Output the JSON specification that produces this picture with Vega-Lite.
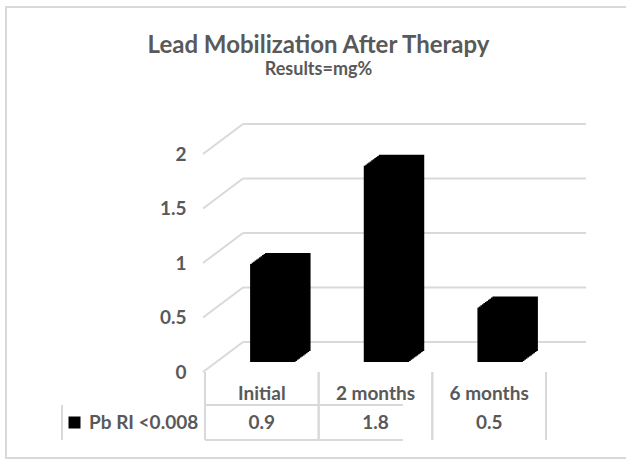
{
  "$schema": "https://vega.github.io/schema/vega-lite/v6.json",
  "width": 341,
  "height": 218,
  "autosize": "none",
  "padding": {"left": 205, "top": 154, "right": 80, "bottom": 88},
  "background": "white",
  "config": {"view": {"stroke": null}},
  "title": {
    "text": "Lead Mobilization After Therapy",
    "subtitle": "Results=mg%",
    "anchor": "middle",
    "dx": -57,
    "offset": -74,
    "font": "Lato",
    "fontSize": 24,
    "fontWeight": "bold",
    "color": "#595959",
    "subtitleFont": "Lato",
    "subtitleFontSize": 18,
    "subtitleFontWeight": "bold",
    "subtitleColor": "#595959",
    "subtitlePadding": 3
  },
  "datasets": {
    "bars": [
      {"cat": "Initial", "val": 0.9, "series": "Pb RI <0.008"},
      {"cat": "2 months", "val": 1.8, "series": "Pb RI <0.008"},
      {"cat": "6 months", "val": 0.5, "series": "Pb RI <0.008"}
    ],
    "ticks": [{"v": 0}, {"v": 0.5}, {"v": 1}, {"v": 1.5}, {"v": 2}]
  },
  "data": {"name": "bars"},
  "layer": [
    {
      "mark": {"type": "rule", "color": "#d9d9d9", "strokeWidth": 2},
      "encoding": {"x": {"value": -199}, "y": {"value": -148}, "y2": {"value": 305}}
    },
    {
      "mark": {"type": "rule", "color": "#d9d9d9", "strokeWidth": 2},
      "encoding": {"x": {"value": -200}, "x2": {"value": 421}, "y": {"value": -147}}
    },
    {
      "mark": {"type": "rule", "color": "#d9d9d9", "strokeWidth": 2},
      "encoding": {"x": {"value": -200}, "x2": {"value": 421}, "y": {"value": 304}}
    },
    {
      "data": {"name": "ticks"},
      "mark": {"type": "rule", "color": "#d9d9d9", "strokeWidth": 2, "xOffset": 38, "x2Offset": 40, "yOffset": -30},
      "encoding": {
        "x": {"value": 0},
        "x2": {"value": {"expr": "width"}},
        "y": {
          "field": "v",
          "type": "quantitative",
          "scale": {"domain": [0, 2], "nice": false, "zero": true},
          "axis": {
            "title": null,
            "values": [0, 0.5, 1, 1.5, 2],
            "format": "~g",
            "domain": false,
            "ticks": false,
            "grid": false,
            "labelPadding": 19,
            "labelFont": "Lato",
            "labelFontSize": 19,
            "labelFontWeight": "bold",
            "labelColor": "#595959"
          }
        }
      }
    },
    {
      "data": {"name": "ticks"},
      "mark": {"type": "rule", "color": "#d9d9d9", "strokeWidth": 2, "xOffset": -2, "x2Offset": 38, "y2Offset": -30},
      "encoding": {
        "x": {"value": 0},
        "x2": {"value": 0},
        "y": {"field": "v", "type": "quantitative"},
        "y2": {"field": "v"}
      }
    },
    {
      "mark": {"type": "rule", "color": "#d9d9d9", "strokeWidth": 2, "y2Offset": 68},
      "encoding": {
        "x": {"field": "cat", "type": "nominal", "bandPosition": 0, "sort": null,
              "scale": {"paddingInner": 0, "paddingOuter": 0},
              "axis": {"title": null, "domain": false, "ticks": false, "labelAngle": 0, "labelPadding": 21, "labelBaseline": "middle",
                       "labelFont": "Lato", "labelFontSize": 19, "labelFontWeight": "bold", "labelColor": "#595959"}},
        "y": {"datum": 0},
        "y2": {"datum": 0}
      }
    },
    {
      "mark": {"type": "rule", "color": "#d9d9d9", "strokeWidth": 2, "y2Offset": 68},
      "encoding": {
        "x": {"field": "cat", "type": "nominal", "bandPosition": 1, "sort": null},
        "y": {"datum": 0},
        "y2": {"datum": 0}
      }
    },
    {
      "mark": {"type": "rule", "color": "#d9d9d9", "strokeWidth": 2, "xOffset": -143, "yOffset": 33},
      "encoding": {"y": {"datum": 0}}
    },
    {
      "mark": {"type": "rule", "color": "#d9d9d9", "strokeWidth": 2, "xOffset": -143, "yOffset": 68},
      "encoding": {"y": {"datum": 0}}
    },
    {
      "mark": {"type": "rule", "color": "#d9d9d9", "strokeWidth": 2, "xOffset": -143, "x2Offset": -143, "yOffset": 33, "y2Offset": 68},
      "encoding": {"x": {"value": 0}, "x2": {"value": 0}, "y": {"datum": 0}, "y2": {"datum": 0}}
    },
    {"mark": {"type": "bar", "color": "#000000", "width": {"band": 0.4}, "xOffset": 26, "yOffset": -21, "y2Offset": -21}, "encoding": {"x": {"field": "cat", "type": "nominal", "sort": null}, "y": {"field": "val", "type": "quantitative"}}},
    {"mark": {"type": "bar", "color": "#000000", "width": {"band": 0.4}, "xOffset": 24.5, "yOffset": -19.9, "y2Offset": -19.9}, "encoding": {"x": {"field": "cat", "type": "nominal", "sort": null}, "y": {"field": "val", "type": "quantitative"}}},
    {"mark": {"type": "bar", "color": "#000000", "width": {"band": 0.4}, "xOffset": 23, "yOffset": -18.8, "y2Offset": -18.8}, "encoding": {"x": {"field": "cat", "type": "nominal", "sort": null}, "y": {"field": "val", "type": "quantitative"}}},
    {"mark": {"type": "bar", "color": "#000000", "width": {"band": 0.4}, "xOffset": 21.5, "yOffset": -17.7, "y2Offset": -17.7}, "encoding": {"x": {"field": "cat", "type": "nominal", "sort": null}, "y": {"field": "val", "type": "quantitative"}}},
    {"mark": {"type": "bar", "color": "#000000", "width": {"band": 0.4}, "xOffset": 20, "yOffset": -16.6, "y2Offset": -16.6}, "encoding": {"x": {"field": "cat", "type": "nominal", "sort": null}, "y": {"field": "val", "type": "quantitative"}}},
    {"mark": {"type": "bar", "color": "#000000", "width": {"band": 0.4}, "xOffset": 18.5, "yOffset": -15.5, "y2Offset": -15.5}, "encoding": {"x": {"field": "cat", "type": "nominal", "sort": null}, "y": {"field": "val", "type": "quantitative"}}},
    {"mark": {"type": "bar", "color": "#000000", "width": {"band": 0.4}, "xOffset": 17, "yOffset": -14.4, "y2Offset": -14.4}, "encoding": {"x": {"field": "cat", "type": "nominal", "sort": null}, "y": {"field": "val", "type": "quantitative"}}},
    {"mark": {"type": "bar", "color": "#000000", "width": {"band": 0.4}, "xOffset": 15.5, "yOffset": -13.3, "y2Offset": -13.3}, "encoding": {"x": {"field": "cat", "type": "nominal", "sort": null}, "y": {"field": "val", "type": "quantitative"}}},
    {"mark": {"type": "bar", "color": "#000000", "width": {"band": 0.4}, "xOffset": 14, "yOffset": -12.2, "y2Offset": -12.2}, "encoding": {"x": {"field": "cat", "type": "nominal", "sort": null}, "y": {"field": "val", "type": "quantitative"}}},
    {"mark": {"type": "bar", "color": "#000000", "width": {"band": 0.4}, "xOffset": 12.5, "yOffset": -11.1, "y2Offset": -11.1}, "encoding": {"x": {"field": "cat", "type": "nominal", "sort": null}, "y": {"field": "val", "type": "quantitative"}}},
    {
      "mark": {"type": "bar", "width": {"band": 0.4}, "xOffset": 11, "yOffset": -10, "y2Offset": -10},
      "encoding": {
        "x": {"field": "cat", "type": "nominal", "sort": null},
        "y": {"field": "val", "type": "quantitative"},
        "color": {
          "field": "series",
          "type": "nominal",
          "scale": {"range": ["#000000"]},
          "legend": {
            "orient": "none",
            "legendX": -140,
            "legendY": 259,
            "title": null,
            "padding": 0,
            "symbolType": "square",
            "symbolSize": 144,
            "symbolStrokeWidth": 0,
            "symbolFillColor": "#000000",
            "labelOffset": 5,
            "labelFont": "Lato",
            "labelFontSize": 19,
            "labelFontWeight": "bold",
            "labelColor": "#595959"
          }
        }
      }
    },
    {
      "mark": {"type": "text", "yOffset": 51, "font": "Lato", "fontSize": 19, "fontWeight": "bold", "color": "#595959"},
      "encoding": {
        "x": {"field": "cat", "type": "nominal", "sort": null},
        "y": {"datum": 0},
        "text": {"field": "val", "type": "quantitative", "format": ".1f"}
      }
    }
  ]
}
